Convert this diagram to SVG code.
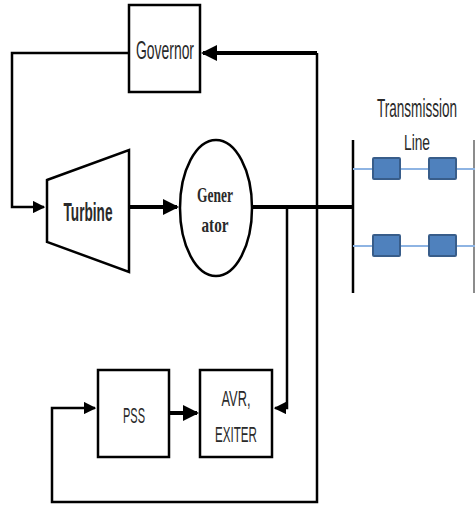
<svg xmlns="http://www.w3.org/2000/svg" width="475" height="506" viewBox="0 0 475 506">
<defs>
<marker id="ah" markerWidth="4" markerHeight="4" refX="3.5" refY="2" orient="auto" markerUnits="strokeWidth">
<path d="M0,0 L4,2 L0,4 Z" fill="#000"/>
</marker>
<marker id="ah2" markerWidth="5" markerHeight="5" refX="4.5" refY="2.5" orient="auto" markerUnits="strokeWidth">
<path d="M0,0 L5,2.5 L0,5 Z" fill="#000"/>
</marker>
<style>
.box{fill:#fff;stroke:#000;stroke-width:2.5}
.ln{fill:none;stroke:#000;stroke-width:2.5}
.thick{fill:none;stroke:#000;stroke-width:4}
.lbl{font-family:"Liberation Sans",Arial,sans-serif;font-size:22px;fill:#2a2a2a;text-anchor:middle}
.bold{font-family:"Liberation Sans",Arial,sans-serif;font-size:26px;font-weight:bold;fill:#2a2a2a;text-anchor:middle}
.gen{font-family:"Liberation Serif","DejaVu Serif",serif;font-size:22px;font-weight:bold;fill:#2a2a2a;text-anchor:middle}
.tl{fill:none;stroke:#8EB4E3;stroke-width:2}
.blk{fill:#4F81BD;stroke:#385D8A;stroke-width:2}
</style>
</defs>
<g id="connectors">
<path class="ln" d="M129,53 H12 V207 H44" marker-end="url(#ah2)"/>
<path class="thick" d="M129,207 H177" marker-end="url(#ah)"/>
<path class="thick" d="M252,207 H353"/>
<path class="thick" d="M317,53 H203" marker-end="url(#ah)"/>
<path class="ln" d="M317,53 V502 H52 V408 H95" marker-end="url(#ah2)"/>
<path class="ln" d="M287,207 V408 H275" marker-end="url(#ah2)"/>
<path class="thick" d="M169,413 H197" marker-end="url(#ah)"/>
</g>
<g id="governor">
<rect class="box" x="129" y="5" width="71" height="87"/>
<text class="lbl" x="165" y="59" style="font-size:25px" textLength="58" lengthAdjust="spacingAndGlyphs">Governor</text>
</g>
<g id="turbine">
<polygon class="box" points="47,180 129,150 129,272 47,242"/>
<text class="bold" x="88" y="221" textLength="49" lengthAdjust="spacingAndGlyphs">Turbine</text>
</g>
<g id="generator">
<ellipse class="box" cx="216" cy="208" rx="36" ry="68"/>
<text class="gen" x="215" y="202" textLength="36" lengthAdjust="spacingAndGlyphs">Gener</text>
<text class="gen" x="215" y="232" textLength="27" lengthAdjust="spacingAndGlyphs">ator</text>
</g>
<g id="pss">
<rect class="box" x="98" y="370" width="71" height="87"/>
<text class="lbl" x="134" y="423" textLength="22" lengthAdjust="spacingAndGlyphs">PSS</text>
</g>
<g id="avr">
<rect class="box" x="200" y="370" width="72" height="87"/>
<text class="lbl" x="236" y="406" textLength="29" lengthAdjust="spacingAndGlyphs">AVR,</text>
<text class="lbl" x="236" y="442" textLength="42" lengthAdjust="spacingAndGlyphs">EXITER</text>
</g>
<g id="transmission-line">
<line x1="353" y1="140" x2="353" y2="293" stroke="#000" stroke-width="2.5"/>
<line x1="474" y1="140" x2="474" y2="293" stroke="#666" stroke-width="1.5"/>
<line class="tl" x1="353" y1="169" x2="475" y2="169"/>
<line class="tl" x1="353" y1="246" x2="475" y2="246"/>
<rect class="blk" x="373" y="158" width="27" height="21" rx="1"/>
<rect class="blk" x="429" y="158" width="27" height="21" rx="1"/>
<rect class="blk" x="373" y="235" width="27" height="21" rx="1"/>
<rect class="blk" x="429" y="235" width="27" height="21" rx="1"/>
<text class="lbl" x="0" y="0" transform="translate(417,117) scale(0.5333,1)" style="font-size:25px" textLength="150" lengthAdjust="spacingAndGlyphs">Transmission</text>
<text class="lbl" x="417" y="150" textLength="26" lengthAdjust="spacingAndGlyphs">Line</text>
</g>
</svg>
